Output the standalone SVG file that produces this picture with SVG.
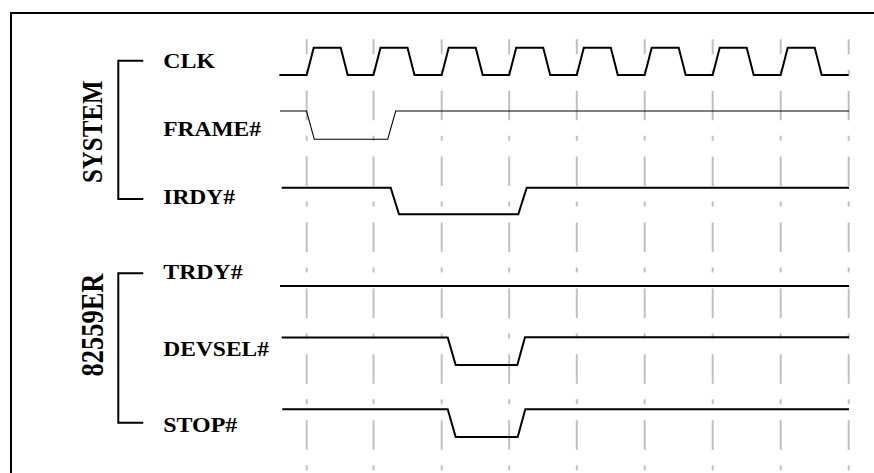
<svg xmlns="http://www.w3.org/2000/svg" width="874" height="473" viewBox="0 0 874 473">
<style>
.lbl{font-family:"Liberation Serif","Times New Roman",serif;font-weight:bold;font-size:20px;fill:#000}
.grp{font-family:"Liberation Serif","Times New Roman",serif;font-weight:bold;fill:#000}
.grid{stroke:#c0c0c0;stroke-width:2;stroke-dasharray:29.5 15.5 5 15.9;stroke-dashoffset:14.5;fill:none}
.w{stroke:#000;stroke-width:2;fill:none;stroke-linejoin:miter}
.thin{stroke:#000;stroke-width:1.1;fill:none}
.br{stroke:#000;stroke-width:2;fill:none}
</style>
<rect width="874" height="473" fill="#fff"/>
<path d="M11,474 V13 H875" fill="none" stroke="#000" stroke-width="2"/>
<g id="grid">
<line class="grid" x1="306.7" y1="39.3" x2="306.7" y2="473"/>
<line class="grid" x1="373.5" y1="39.3" x2="373.5" y2="473"/>
<line class="grid" x1="441.7" y1="39.3" x2="441.7" y2="473"/>
<line class="grid" x1="509.2" y1="39.3" x2="509.2" y2="473"/>
<line class="grid" x1="576.8" y1="39.3" x2="576.8" y2="473"/>
<line class="grid" x1="644.7" y1="39.3" x2="644.7" y2="473"/>
<line class="grid" x1="712.7" y1="39.3" x2="712.7" y2="473"/>
<line class="grid" x1="780.7" y1="39.3" x2="780.7" y2="473"/>
<line class="grid" x1="848.7" y1="39.3" x2="848.7" y2="473"/>
</g>
<g id="group-system">
<path class="br" d="M143.3,60.7 H118.3 V199 H143.3"/>
<text class="grp" font-size="25" text-anchor="middle" transform="translate(102.3,131.7) scale(1.19,1) rotate(-90)">SYSTEM</text>
</g>
<g id="group-82559er">
<path class="br" d="M143.3,273.3 H118.3 V422.7 H143.3"/>
<text class="grp" font-size="26.5" text-anchor="middle" transform="translate(103.3,325) scale(1.19,1) rotate(-90)">82559ER</text>
</g>
<g id="clk">
<text class="lbl" x="163.3" y="68.3" textLength="51.7" lengthAdjust="spacingAndGlyphs">CLK</text>
<path class="w" d="M279.3,75 H306.7 L313.7,47.7 H340.7 L347.7,75 H373.5 L380.5,47.7 H407.5 L414.5,75 H441.7 L448.7,47.7 H475.7 L482.7,75 H509.2 L516.2,47.7 H543.2 L550.2,75 H576.8 L583.8,47.7 H610.8 L617.8,75 H644.7 L651.7,47.7 H678.7 L685.7,75 H712.7 L719.7,47.7 H746.7 L753.7,75 H780.7 L787.7,47.7 H814.7 L821.7,75 H848.7"/>
</g>
<g id="frame">
<text class="lbl" x="163.3" y="136" textLength="97.7" lengthAdjust="spacingAndGlyphs">FRAME#</text>
<path class="thin" d="M280,111 H306.5 L314.3,139.3 H387.7 L395.7,111 H849"/>
</g>
<g id="irdy">
<text class="lbl" x="163.3" y="204.3" textLength="71.7" lengthAdjust="spacingAndGlyphs">IRDY#</text>
<path class="w" d="M281.7,187.7 H390.7 L399,214.3 H518.3 L526.7,187.7 H849"/>
</g>
<g id="trdy">
<text class="lbl" x="163.3" y="279" textLength="79.3" lengthAdjust="spacingAndGlyphs">TRDY#</text>
<path class="w" d="M280,286 H849"/>
</g>
<g id="devsel">
<text class="lbl" x="163.3" y="355.5" textLength="105.7" lengthAdjust="spacingAndGlyphs">DEVSEL#</text>
<path class="w" d="M281.7,337.5 H447.7 L455.7,365 H517.3 L525,337.2 H849"/>
</g>
<g id="stop">
<text class="lbl" x="163.3" y="432" textLength="74" lengthAdjust="spacingAndGlyphs">STOP#</text>
<path class="w" d="M282.3,409.3 H447.7 L455.7,437 H517.7 L525.3,409.3 H849"/>
</g>
<g id="connectors"></g>
</svg>
